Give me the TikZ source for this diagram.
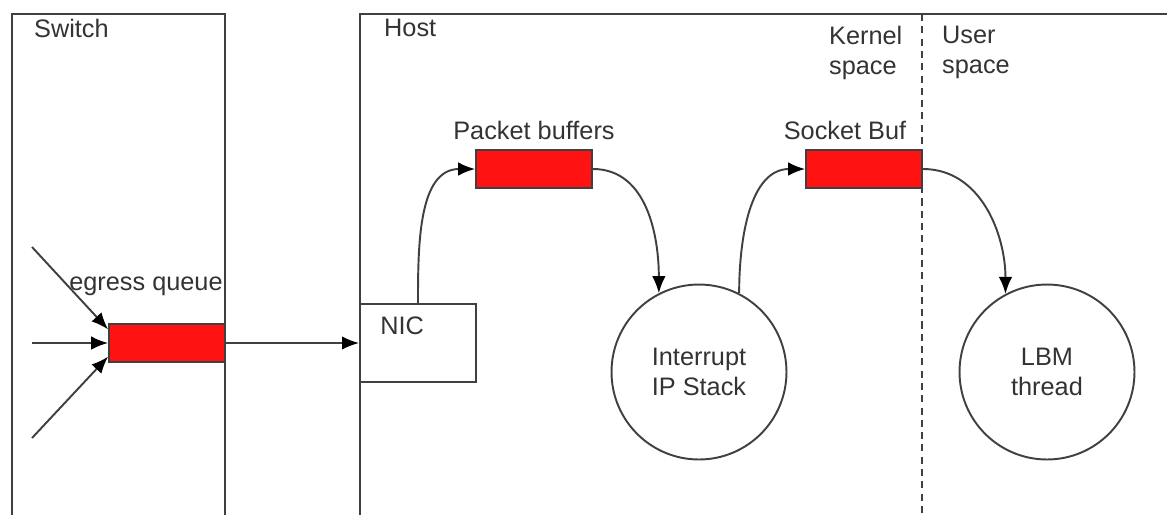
\documentclass[tikz,border=0pt]{standalone}
\usepackage{fontspec}
\setmainfont{Liberation Sans}
\usepackage{xcolor}
\usetikzlibrary{arrows.meta}
\definecolor{qred}{HTML}{FF1212}
\definecolor{ink}{HTML}{333333}
\definecolor{edge}{HTML}{404040}

\begin{document}
\begin{tikzpicture}[x=0.02cm, y=-0.02cm,
 font=\fontsize{14.4}{17}\selectfont, text=ink,
 wire/.style={draw=edge, line width=1.1pt},
 queue/.style={draw=black!75, line width=1pt, fill=qred, minimum width=2.32cm, minimum height=0.76cm, inner sep=0pt},
 proc/.style={circle, wire, minimum size=3.5cm, align=center, inner sep=0pt},
 flow/.style={wire, -{Latex[length=3.4mm, width=2.7mm, color=black]}}]
\useasboundingbox (0,0) rectangle (1167,515);
\draw[wire, line width=1.3pt] (12,515) -- (12,14) -- (225,14) -- (225,515);
\draw[wire, line width=1.3pt] (360,515) -- (360,14) -- (1167,14);
\draw[wire, dash pattern=on 4pt off 3pt] (922,14) -- (922,515);
\node[anchor=west] (switch) at (28,28) {Switch};
\node[anchor=west] (host) at (378,28) {Host};
\node[anchor=north west, align=left] (kernel) at (823,20) {Kernel\\space};
\node[anchor=north west, align=left] (user) at (936,20) {User\\space};
\node[queue] (egress) at (167,343) {};
\node (egresslbl) at (146,286) {egress queue};
\node[wire, minimum width=2.32cm, minimum height=1.56cm, inner sep=0pt,
 label={[anchor=west, xshift=0.3cm, yshift=-0.46cm]north west:NIC}] (nic) at (418,343) {};
\node[queue] (pktbuf) at (534,169) {};
\node[anchor=south] (pktlbl) at (534,146) {Packet buffers};
\node[proc] (ipstack) at (699,372) {Interrupt\\IP Stack};
\node[queue] (sockbuf) at (864,169) {};
\node[anchor=south] (socklbl) at (845,146) {Socket Buf};
\node[proc] (lbm) at (1047,372) {LBM\\thread};
\coordinate (in1) at (32,247);
\coordinate (in2) at (32,343);
\coordinate (in3) at (32,438);
\draw[flow] (in1) -- (egress.167);
\draw[flow] (in2) -- (egress.west);
\draw[flow] (in3) -- (egress.193);
\draw[flow] (egress.east) -- (nic.west);
\draw[flow] (nic.north) to[out=90, in=180] (pktbuf.west);
\draw[flow] (pktbuf.east) to[out=0, in=90] (ipstack.117);
\draw[flow] (ipstack.63) to[out=90, in=180] (sockbuf.west);
\draw[flow] (sockbuf.east) to[out=0, in=90] (lbm.118);
\end{tikzpicture}
\end{document}
